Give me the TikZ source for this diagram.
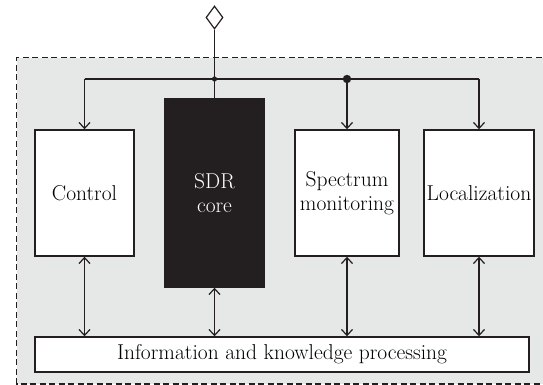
\documentclass[tikz,border=0pt]{standalone}
\usepackage{amsmath}
\usepackage{tikz}
\usetikzlibrary{arrows.meta,shapes.geometric}
\definecolor{panel}{HTML}{E6E7E7}
\definecolor{ink}{HTML}{231F20}

\begin{document}
\begin{tikzpicture}[x=1pt,y=-1pt,
  line width=1.2pt,draw=ink,
  block/.style={rectangle,draw=ink,line width=1.4pt,fill=white,inner sep=0pt,
    align=center,font=\fontsize{21.5}{24}\selectfont},
  darkblock/.style={block,fill=ink,text=white},
  link/.style={-{Straight Barb[length=6pt,width=11pt]}},
  duplex/.style={{Straight Barb[length=6pt,width=11pt]}-{Straight Barb[length=6pt,width=11pt]}}]
\clip (0,0) rectangle (543,385);
\fill[panel] (16.7,57.7) rectangle (570,384);
\draw[dashed,dash pattern=on 6pt off 3.5pt] (570,57.7) -- (16.7,57.7) -- (16.7,384) -- (570,384);
\node [diamond,draw=ink,fill=white,inner sep=0pt,minimum width=17pt,minimum height=23pt] (ant) at (214.5,17.5) {};
\node [block,minimum width=99pt,minimum height=126pt] (ctrl) at (84.5,193) {Control};
\node [darkblock,minimum width=99pt,minimum height=188pt] (sdr) at (214.5,193) {SDR\\core};
\node [block,minimum width=104pt,minimum height=126pt] (spec) at (347,193) {Spectrum\\monitoring};
\node [block,minimum width=110pt,minimum height=126pt] (loc) at (479,193) {Localization};
\node [block,minimum width=494pt,minimum height=35pt] (info) at (282,354.5) {Information and knowledge processing};
\coordinate (j1) at (214.5,79);
\coordinate (j2) at (spec.north |- j1);
\draw (ant.south) -- (j1) -- (sdr.north);
\draw (ctrl.north |- j1) -- (loc.north |- j1);
\draw [link] (ctrl.north |- j1) -- (ctrl.north);
\draw [link] (j2) -- (spec.north);
\draw [link] (loc.north |- j1) -- (loc.north);
\fill [ink] (j1) circle (2.6pt);
\fill [ink] (j2) circle (4.2pt);
\draw [duplex] (ctrl.south) -- (ctrl.south |- info.north);
\draw [duplex] (sdr.south) -- (sdr.south |- info.north);
\draw [duplex] (spec.south) -- (spec.south |- info.north);
\draw [duplex] (loc.south) -- (loc.south |- info.north);
\end{tikzpicture}
\end{document}
